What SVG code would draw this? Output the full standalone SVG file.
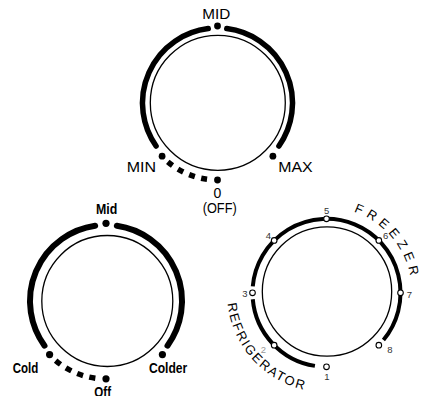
<svg xmlns="http://www.w3.org/2000/svg" width="428" height="396" viewBox="0 0 428 396">
<style>
.bg{fill:#fff}
.inner{fill:none;stroke:#000;stroke-width:1.3}
.arc{fill:none;stroke:#000;stroke-width:5.5;stroke-linecap:round}
.arcB{fill:none;stroke:#000;stroke-width:6;stroke-linecap:round}
.dash{fill:none;stroke:#000;stroke-width:5.5}
.arcR{fill:none;stroke:#000;stroke-width:4}
.dot{fill:#000}
.odot{fill:#fff;stroke:#000;stroke-width:1.1}
.lbl{font-family:"Liberation Sans",Arial,sans-serif;font-size:14px;fill:#000}
.blbl{font-family:"Liberation Sans",Arial,sans-serif;font-size:14.5px;font-weight:bold;fill:#000}
.num{font-family:"Liberation Sans",Arial,sans-serif;font-size:9.5px;fill:#333;text-anchor:middle}
.arcTxt{font-family:"Liberation Sans",Arial,sans-serif;font-size:13px;fill:#000}
</style>
<defs>
<path id="pFreezer" d="M 353.8 211.7 A 85.5 85.5 0 0 1 412 292.8"/>
<path id="pRefrig" d="M 227.6 303.7 A 99.5 99.5 0 0 0 343.8 390.8"/>
</defs>
<rect class="bg" x="0" y="0" width="428" height="396"/>

<g id="dial-top">
<circle class="inner" cx="217.8" cy="102.8" r="67.5"/>
<path class="arc" d="M 156.06 146.02 A 75 75 0 0 1 208.23 28.58"/>
<path class="arc" d="M 226.77 28.58 A 75 75 0 0 1 278.94 146.02"/>
<path class="dash" stroke-dasharray="6 6.5" d="M 167.80 161.81 A 77 77 0 0 0 207.05 179.29"/>
<circle class="dot" cx="217.5" cy="26" r="3.4"/>
<circle class="dot" cx="162.1" cy="156.2" r="3.4"/>
<circle class="dot" cx="272.9" cy="156.2" r="3.4"/>
<circle class="dot" cx="217.5" cy="180" r="3.4"/>
<text class="lbl" x="202.3" y="19" textLength="28" lengthAdjust="spacingAndGlyphs">MID</text>
<text class="lbl" x="126.7" y="172.3" textLength="29.3" lengthAdjust="spacingAndGlyphs">MIN</text>
<text class="lbl" x="278.3" y="172.3" textLength="34.4" lengthAdjust="spacingAndGlyphs">MAX</text>
<text class="lbl" x="217.3" y="198.2" text-anchor="middle">0</text>
<text class="lbl" x="202.7" y="212.8" font-size="13.5" textLength="34" lengthAdjust="spacingAndGlyphs">(OFF)</text>
</g>

<g id="dial-left">
<circle class="inner" cx="107.3" cy="301" r="65.5"/>
<path class="arcB" d="M 44.51 345.67 A 76 76 0 0 1 95.16 225.77"/>
<path class="arcB" d="M 116.84 225.77 A 76 76 0 0 1 167.49 345.67"/>
<path class="dash" stroke-width="6" stroke-dasharray="6.2 6.4" d="M 55.65 360.58 A 78 78 0 0 0 95.42 378.27"/>
<circle class="dot" cx="106" cy="223.3" r="3.6"/>
<circle class="dot" cx="49.6" cy="354.6" r="3.6"/>
<circle class="dot" cx="162.4" cy="354.6" r="3.6"/>
<circle class="dot" cx="106" cy="378.8" r="3.6"/>
<text class="blbl" x="96" y="214.3" textLength="21.3" lengthAdjust="spacingAndGlyphs">Mid</text>
<text class="blbl" x="12.7" y="373.4" textLength="25.6" lengthAdjust="spacingAndGlyphs">Cold</text>
<text class="blbl" x="149" y="373.4" textLength="38.3" lengthAdjust="spacingAndGlyphs">Colder</text>
<text class="blbl" x="94.3" y="397" textLength="16.7" lengthAdjust="spacingAndGlyphs">Off</text>
</g>

<g id="dial-right">
<circle class="inner" cx="327" cy="291.5" r="64.7"/>
<path class="arcR" d="M 252.78 286.35 A 74 74 0 1 1 383.44 340.07"/>
<path class="arcR" d="M 314.92 365.89 A 74 74 0 0 1 252.78 299.25"/>
<circle class="odot" cx="400.5" cy="292.8" r="2.8"/>
<circle class="odot" cx="378.83" cy="345.13" r="2.8"/>
<circle class="odot" cx="326.5" cy="366.8" r="2.8"/>
<circle class="odot" cx="274.17" cy="345.13" r="2.8"/>
<circle class="odot" cx="252.5" cy="292.8" r="2.8"/>
<circle class="odot" cx="274.17" cy="240.47" r="2.8"/>
<circle class="odot" cx="326.5" cy="218.8" r="2.8"/>
<circle class="odot" cx="378.83" cy="240.47" r="2.8"/>
<text class="num" x="326.7" y="213.5">5</text>
<text class="num" x="268.3" y="238.5">4</text>
<text class="num" x="385.7" y="239">6</text>
<text class="num" x="245" y="296.5">3</text>
<text class="num" x="409.3" y="297.5">7</text>
<text class="num" x="263.5" y="352.5" fill="#999" style="fill:#999">2</text>
<text class="num" x="390" y="352.5">8</text>
<text class="num" x="327" y="380">1</text>
<text class="arcTxt" letter-spacing="4.8"><textPath href="#pFreezer">FREEZER</textPath></text>
<text class="arcTxt" letter-spacing="1.8"><textPath href="#pRefrig">REFRIGERATOR</textPath></text>
</g>
</svg>
